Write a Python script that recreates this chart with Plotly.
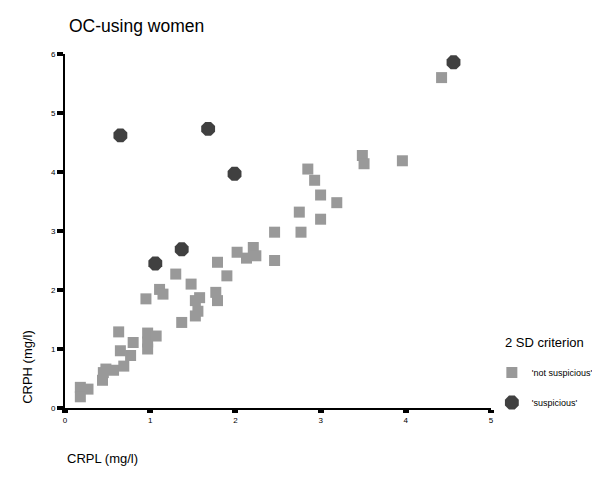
import plotly.graph_objects as go

# Not suspicious (gray squares)
ns_x = [0.18, 0.27, 0.18, 0.44, 0.48, 0.57, 0.45, 0.69, 0.77, 0.65, 0.80, 0.97, 0.97, 0.97, 1.07,
        0.63, 1.37, 0.95, 1.30, 1.48, 1.11, 1.15, 1.58, 1.53, 1.56, 1.53, 1.79, 1.90, 1.77, 1.79,
        2.02, 2.13, 2.21, 2.24, 2.46, 2.46, 2.77, 2.75, 3.00, 3.19, 3.00, 2.93, 2.85, 3.49, 3.51,
        3.96, 4.42]
ns_y = [0.35, 0.32, 0.19, 0.47, 0.66, 0.64, 0.60, 0.71, 0.89, 0.97, 1.11, 1.00, 1.12, 1.27, 1.22,
        1.29, 1.45, 1.85, 2.27, 2.10, 2.01, 1.93, 1.87, 1.82, 1.64, 1.56, 2.47, 2.24, 1.96, 1.82,
        2.64, 2.54, 2.72, 2.58, 2.50, 2.98, 2.98, 3.32, 3.20, 3.48, 3.61, 3.86, 4.05, 4.28, 4.14,
        4.19, 5.60]

# Suspicious (dark octagons)
s_x = [0.65, 1.68, 1.99, 1.06, 1.37, 4.56]
s_y = [4.62, 4.73, 3.97, 2.45, 2.69, 5.86]

x_ticks = [0, 1, 2, 3, 4, 5]
y_ticks = [0, 1, 2, 3, 4, 5, 6]

FONT = "Liberation Sans, Arial, sans-serif"

fig = go.Figure()
fig.add_trace(go.Scatter(
    x=ns_x, y=ns_y, mode="markers", name="'not suspicious'", legendgroup="a",
    marker=dict(symbol="square", size=11, color="#999999", line=dict(width=0)),
))
fig.add_trace(go.Scatter(
    x=s_x, y=s_y, mode="markers", name="'suspicious'", legendgroup="b",
    marker=dict(symbol="octagon", size=15, color="#404040", line=dict(width=0)),
))

fig.update_layout(
    width=600, height=478,
    margin=dict(l=57, r=117, t=46, b=78, autoexpand=False),
    paper_bgcolor="white", plot_bgcolor="white",
    font=dict(family=FONT, color="black"),
    showlegend=True,
    legend=dict(
        x=1.002, y=0.1412, xanchor="left", yanchor="top",
        font=dict(size=9, family=FONT, color="black"),
        tracegroupgap=11, traceorder="grouped",
        bgcolor="rgba(0,0,0,0)",
    ),
    xaxis=dict(
        range=[0, 5], tickvals=x_ticks, ticktext=[str(v) for v in x_ticks],
        showgrid=False, zeroline=False, showline=True, linecolor="black", linewidth=2,
        ticks="outside", ticklen=3, tickwidth=6, tickcolor="black",
        tickfont=dict(size=8, family=FONT, color="black"),
    ),
    yaxis=dict(
        range=[0, 6], tickvals=y_ticks, ticktext=[str(v) for v in y_ticks],
        showgrid=False, zeroline=False, showline=True, linecolor="black", linewidth=2,
        ticks="outside", ticklen=6, tickwidth=4, tickcolor="black",
        tickfont=dict(size=8, family=FONT, color="black"),
    ),
    annotations=[
        dict(text="OC-using women", x=0.005, y=1.079, xref="paper", yref="paper",
             xanchor="left", yanchor="middle", showarrow=False,
             font=dict(size=17.5, family=FONT, color="black")),
        dict(text="CRPH (mg/l)", x=-0.087, y=0.116, xref="paper", yref="paper",
             xanchor="center", yanchor="middle", showarrow=False, textangle=-90,
             font=dict(size=13, family=FONT, color="black")),
        dict(text="CRPL (mg/l)", x=0.087, y=-0.144, xref="paper", yref="paper",
             xanchor="center", yanchor="middle", showarrow=False,
             font=dict(size=13, family=FONT, color="black")),
        dict(text="2 SD criterion", x=(503 - 65) / 426, y=(408 - 342) / 354,
             xref="paper", yref="paper", xanchor="left", yanchor="middle", showarrow=False,
             font=dict(size=13, family=FONT, color="black")),
    ],
)

fig.write_html("out.html")
